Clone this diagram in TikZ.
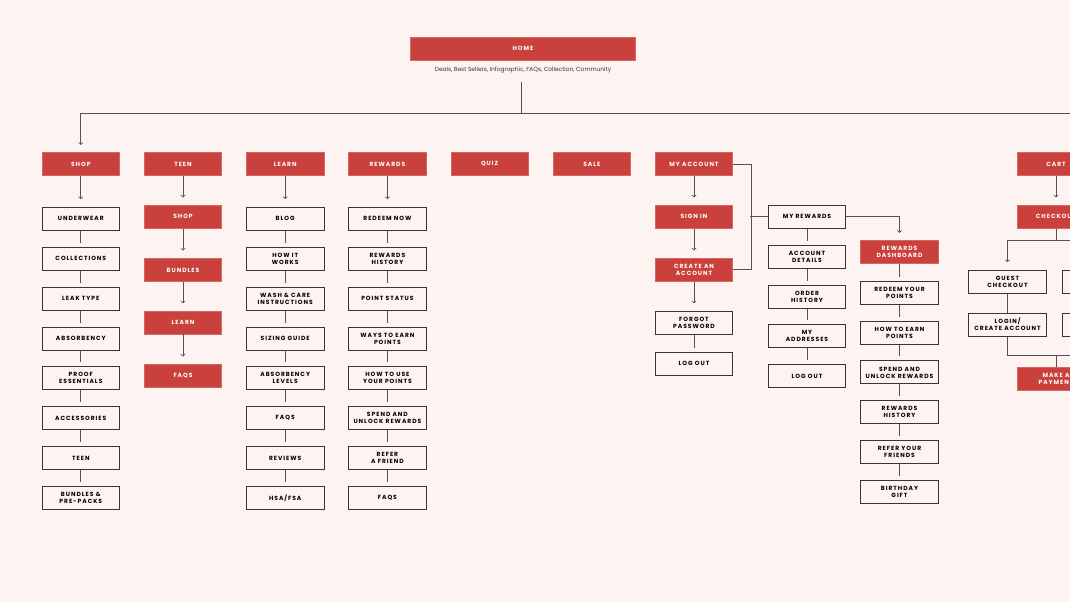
\documentclass[tikz,border=0pt]{standalone}
\usepackage{fontspec}
\setmainfont{Poppins}
\newfontfamily\cajafont[LetterSpace=16]{Poppins}
\usepackage{xcolor}
\usepackage{tikz}
\definecolor{rojo}{HTML}{C9403C}
\definecolor{fondo}{HTML}{FDF4F2}
\definecolor{borde}{HTML}{3B3434}
\definecolor{gris}{HTML}{5A5050}

\begin{document}
\begin{tikzpicture}[x=1pt, y=-1pt]
      % Definimos algunos estilos
      \tikzstyle{caja}=[
        draw=borde,
        line width=0.9pt,
        minimum width=77.5pt,
        minimum height=23pt,
        inner sep=1pt,
        align=center,
        text=black,
        font=\cajafont\bfseries\fontsize{6}{7}\selectfont
      ]
      % las cajas rojas llevan el texto en blanco
      \tikzstyle{caja_roja}=[caja, draw=rojo!80!white, line width=0.6pt, fill=rojo, text=white]
      \tikzstyle{conector}=[draw=gris, line width=0.8pt, shorten >=4pt]
      \tikzstyle{linea}=[draw=gris, line width=0.8pt]
      \tikzstyle{flecha}=[linea, ->, shorten >=7.5pt]

      % fondo y margenes
      \clip (0,0) rectangle (1070,602);
      \fill[fondo] (0,0) rectangle (1070,602);

      % Home
      \node[caja_roja, minimum width=225pt] (home) at (523,48.5) {HOME};
      \node[font=\fontsize{5.9}{6.5}\selectfont, text=borde] (sub) at (523,69.7) {Deals, Best Sellers, Infographic, FAQs, Collection, Community};

      % menu principal
      \node[caja_roja] (shop) at (80.8,164.2) {SHOP};
      \node[caja_roja] (teen) at (183,164.2) {TEEN};
      \node[caja_roja] (learn) at (285.2,164.2) {LEARN};
      \node[caja_roja] (rewards) at (387.4,164.2) {REWARDS};
      \node[caja_roja] (quiz) at (489.6,164.2) {QUIZ};
      \node[caja_roja] (sale) at (591.8,164.2) {SALE};
      \node[caja_roja] (acct) at (694,164.2) {MY ACCOUNT};
      \node[caja_roja] (cart) at (1056,164.2) {CART};
      \coordinate (rama) at (521,113.5);
      \coordinate (rama_der) at (1080,113.5);
      \draw[linea, shorten <=6pt] (sub.south -| rama) -- (rama);
      \draw[flecha] (rama_der) -| (shop);

      % Shop
      \node[caja] (underwear) at (80.8,218.6) {UNDERWEAR};
      \node[caja] (collections) at (80.8,258.6) {COLLECTIONS};
      \node[caja] (leak) at (80.8,298.6) {LEAK TYPE};
      \node[caja] (absorb) at (80.8,338.5) {ABSORBENCY};
      \node[caja] (proof) at (80.8,378.3) {PROOF\\ESSENTIALS};
      \node[caja] (access) at (80.8,418.1) {ACCESSORIES};
      \node[caja] (teen_s) at (80.8,458) {TEEN};
      \node[caja] (bundles_s) at (80.8,498) {BUNDLES \&\\PRE-PACKS};
      \draw[flecha] (shop) -- (underwear);
      \draw[conector] (underwear) -- (collections);
      \draw[conector] (collections) -- (leak);
      \draw[conector] (leak) -- (absorb);
      \draw[conector] (absorb) -- (proof);
      \draw[conector] (proof) -- (access);
      \draw[conector] (access) -- (teen_s);
      \draw[conector] (teen_s) -- (bundles_s);

      % Teen
      \node[caja_roja] (t_shop) at (183,216.8) {SHOP};
      \node[caja_roja] (t_bundles) at (183,270) {BUNDLES};
      \node[caja_roja] (t_learn) at (183,322.6) {LEARN};
      \node[caja_roja] (t_faqs) at (183,375.8) {FAQS};
      \draw[flecha] (teen) -- (t_shop);
      \draw[flecha] (t_shop) -- (t_bundles);
      \draw[flecha] (t_bundles) -- (t_learn);
      \draw[flecha] (t_learn) -- (t_faqs);

      % Learn
      \node[caja] (blog) at (285.2,218.6) {BLOG};
      \node[caja] (works) at (285.2,258.6) {HOW IT\\WORKS};
      \node[caja] (wash) at (285.2,298.6) {WASH \& CARE\\INSTRUCTIONS};
      \node[caja] (sizing) at (285.2,338.5) {SIZING GUIDE};
      \node[caja] (levels) at (285.2,378.3) {ABSORBENCY\\LEVELS};
      \node[caja] (l_faqs) at (285.2,418.1) {FAQS};
      \node[caja] (reviews) at (285.2,458) {REVIEWS};
      \node[caja] (hsa) at (285.2,498) {HSA/FSA};
      \draw[flecha] (learn) -- (blog);
      \draw[conector] (blog) -- (works);
      \draw[conector] (works) -- (wash);
      \draw[conector] (wash) -- (sizing);
      \draw[conector] (sizing) -- (levels);
      \draw[conector] (levels) -- (l_faqs);
      \draw[conector] (l_faqs) -- (reviews);
      \draw[conector] (reviews) -- (hsa);

      % Rewards
      \node[caja] (redeem) at (387.4,218.6) {REDEEM NOW};
      \node[caja] (r_history) at (387.4,258.6) {REWARDS\\HISTORY};
      \node[caja] (status) at (387.4,298.6) {POINT STATUS};
      \node[caja] (earn) at (387.4,338.5) {WAYS TO EARN\\POINTS};
      \node[caja] (use) at (387.4,378.3) {HOW TO USE\\YOUR POINTS};
      \node[caja] (spend) at (387.4,418.1) {SPEND AND\\UNLOCK REWARDS};
      \node[caja] (refer) at (387.4,458) {REFER\\A FRIEND};
      \node[caja] (r_faqs) at (387.4,498) {FAQS};
      \draw[flecha] (rewards) -- (redeem);
      \draw[conector] (redeem) -- (r_history);
      \draw[conector] (r_history) -- (status);
      \draw[conector] (status) -- (earn);
      \draw[conector] (earn) -- (use);
      \draw[conector] (use) -- (spend);
      \draw[conector] (spend) -- (refer);
      \draw[conector] (refer) -- (r_faqs);

      % My account
      \node[caja_roja] (signin) at (694,216.8) {SIGN IN};
      \node[caja_roja] (create) at (694,269.8) {CREATE AN\\ACCOUNT};
      \node[caja] (forgot) at (694,322.8) {FORGOT\\PASSWORD};
      \node[caja] (logout) at (694,363.7) {LOG OUT};
      \draw[flecha] (acct) -- (signin);
      \draw[flecha] (signin) -- (create);
      \draw[flecha] (create) -- (forgot);
      \draw[conector] (forgot) -- (logout);
      \draw[linea] (acct.east) -- ++(18,0) |- (create.east);

      % My rewards
      \node[caja] (myrew) at (807,216.7) {MY REWARDS};
      \node[caja] (details) at (807,257.2) {ACCOUNT\\DETAILS};
      \node[caja] (orders) at (807,296.6) {ORDER\\HISTORY};
      \node[caja] (addresses) at (807,336.2) {MY\\ADDRESSES};
      \node[caja] (m_logout) at (807,376) {LOG OUT};
      \draw[linea] (myrew.west) -- ++(-18,0);
      \draw[conector] (myrew) -- (details);
      \draw[conector] (details) -- (orders);
      \draw[conector] (orders) -- (addresses);
      \draw[conector] (addresses) -- (m_logout);

      % Rewards dashboard
      \node[caja_roja] (dash) at (899.5,252.2) {REWARDS\\DASHBOARD};
      \node[caja] (d_redeem) at (899.5,292.8) {REDEEM YOUR\\POINTS};
      \node[caja] (d_earn) at (899.5,332.6) {HOW TO EARN\\POINTS};
      \node[caja] (d_spend) at (899.5,372.4) {SPEND AND\\UNLOCK REWARDS};
      \node[caja] (d_history) at (899.5,412.3) {REWARDS\\HISTORY};
      \node[caja] (d_friends) at (899.5,452) {REFER YOUR\\FRIENDS};
      \node[caja] (birthday) at (899.5,491.6) {BIRTHDAY\\GIFT};
      \draw[flecha] (myrew.east) -| (dash);
      \draw[conector] (dash) -- (d_redeem);
      \draw[conector] (d_redeem) -- (d_earn);
      \draw[conector] (d_earn) -- (d_spend);
      \draw[conector] (d_spend) -- (d_history);
      \draw[conector] (d_history) -- (d_friends);
      \draw[conector] (d_friends) -- (birthday);

      % Cart (cortado por el borde derecho)
      \node[caja_roja] (checkout) at (1056,216.8) {CHECKOUT};
      \node[caja] (guest) at (1007.5,281.6) {GUEST\\CHECKOUT};
      \node[caja] (login) at (1007.5,324.6) {LOGIN/\\CREATE ACCOUNT};
      \node[caja] (otro_a) at (1101.5,281.6) {};
      \node[caja] (otro_b) at (1101.5,324.6) {};
      \node[caja_roja] (payment) at (1056,378.7) {MAKE A\\PAYMENT};
      \coordinate (cruce) at (1056,240.5);
      \coordinate (union) at (1056,355);
      \draw[flecha] (cart) -- (checkout);
      \draw[linea] (checkout) -- (cruce);
      \draw[flecha] (cruce) -| (guest);
      \draw[flecha] (cruce) -| (otro_a);
      \draw[linea] (guest) -- (login);
      \draw[linea] (otro_a) -- (otro_b);
      \draw[linea] (login) |- (union);
      \draw[linea] (otro_b) |- (union);
      \draw[linea] (union) -- (payment);
    \end{tikzpicture}
\end{document}
